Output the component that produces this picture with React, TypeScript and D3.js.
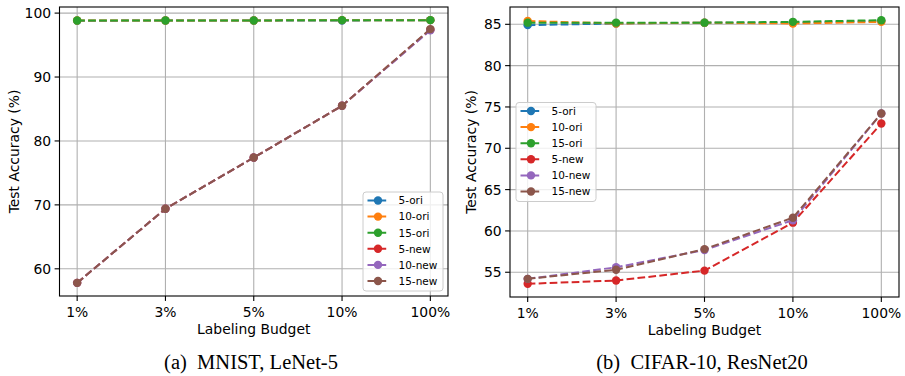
import React from "react";
import * as d3 from "d3";

const categories = ["1%", "3%", "5%", "10%", "100%"];
const seriesNames = ["5-ori", "10-ori", "15-ori", "5-new", "10-new", "15-new"];
const colors = ["#1f77b4", "#ff7f0e", "#2ca02c", "#d62728", "#9467bd", "#8c564b"];

// Panel (a) MNIST, LeNet-5
const mnist5ori = [98.8, 98.85, 98.85, 98.85, 98.9];
const mnist10ori = [98.85, 98.85, 98.85, 98.9, 98.9];
const mnist15ori = [98.85, 98.85, 98.85, 98.9, 98.9];
const mnist5new = [57.8, 69.4, 77.4, 85.5, 97.4];
const mnist10new = [57.8, 69.4, 77.4, 85.5, 97.3];
const mnist15new = [57.8, 69.4, 77.4, 85.5, 97.5];
const mnistTicks = [60, 70, 80, 90, 100];

// Panel (b) CIFAR-10, ResNet20
const cifar5ori = [84.9, 85.1, 85.2, 85.2, 85.4];
const cifar10ori = [85.4, 85.1, 85.2, 85.1, 85.3];
const cifar15ori = [85.2, 85.2, 85.2, 85.3, 85.5];
const cifar5new = [53.6, 54.0, 55.2, 61.0, 73.0];
const cifar10new = [54.2, 55.6, 57.7, 61.3, 74.2];
const cifar15new = [54.2, 55.3, 57.8, 61.6, 74.2];
const cifarTicks = [55, 60, 65, 70, 75, 80, 85];

const panels = [
  {
    series: [mnist5ori, mnist10ori, mnist15ori, mnist5new, mnist10new, mnist15new],
    ticks: mnistTicks,
    left: 59.5, right: 448, top: 7, bottom: 296,
    legend: { x: 363, y: 192 },
    caption: "(a)\u00a0\u00a0MNIST, LeNet-5",
    captionX: 251,
    ylabelX: 19,
  },
  {
    series: [cifar5ori, cifar10ori, cifar15ori, cifar5new, cifar10new, cifar15new],
    ticks: cifarTicks,
    left: 510, right: 899, top: 7, bottom: 297,
    legend: { x: 516, y: 102.5 },
    caption: "(b)\u00a0\u00a0CIFAR-10, ResNet20",
    captionX: 702,
    ylabelX: 476,
  },
];

const axisFont = "DejaVu Sans";

function Panel({ p }: { p: typeof panels[number] }) {
  const all = p.series.flat();
  const lo = d3.min(all)!;
  const hi = d3.max(all)!;
  const m = (hi - lo) * 0.05;
  const y = d3.scaleLinear().domain([lo - m, hi + m]).range([p.bottom, p.top]);
  const x = d3.scaleLinear().domain([-0.2, categories.length - 1 + 0.2]).range([p.left, p.right]);
  const line = d3
    .line<number>()
    .x((_, i) => x(i))
    .y((d) => y(d));
  const midX = (p.left + p.right) / 2;
  const midY = (p.top + p.bottom) / 2;
  return (
    <g>
      {categories.map((c, i) => (
        <line key={"gx" + c} x1={x(i)} x2={x(i)} y1={p.top} y2={p.bottom} stroke="#b0b0b0" strokeWidth={1.1} />
      ))}
      {p.ticks.map((t) => (
        <line key={"gy" + t} x1={p.left} x2={p.right} y1={y(t)} y2={y(t)} stroke="#b0b0b0" strokeWidth={1.1} />
      ))}
      {p.series.map((s, si) => (
        <g key={"s" + si}>
          <path d={line(s)!} fill="none" stroke={colors[si]} strokeWidth={2} strokeDasharray="7.7,3.3" />
          {s.map((v, i) => (
            <circle key={i} cx={x(i)} cy={y(v)} r={4.2} fill={colors[si]} />
          ))}
        </g>
      ))}
      <rect x={p.left} y={p.top} width={p.right - p.left} height={p.bottom - p.top} fill="none" stroke="#000" strokeWidth={1.1} />
      {categories.map((c, i) => (
        <g key={"xt" + c}>
          <line x1={x(i)} x2={x(i)} y1={p.bottom} y2={p.bottom + 4.9} stroke="#000" strokeWidth={1.1} />
          <text x={x(i)} y={p.bottom + 20.5} textAnchor="middle" style={{ fontFamily: axisFont, fontSize: 13.9 }} fill="#000">
            {c}
          </text>
        </g>
      ))}
      {p.ticks.map((t) => (
        <g key={"yt" + t}>
          <line x1={p.left - 4.9} x2={p.left} y1={y(t)} y2={y(t)} stroke="#000" strokeWidth={1.1} />
          <text x={p.left - 8.4} y={y(t) + 5} textAnchor="end" style={{ fontFamily: axisFont, fontSize: 13.9 }} fill="#000">
            {t}
          </text>
        </g>
      ))}
      <text x={midX} y={p.bottom + 38} textAnchor="middle" style={{ fontFamily: axisFont, fontSize: 13.9 }} fill="#000">
        Labeling Budget
      </text>
      <text
        transform={`translate(${p.ylabelX},${midY}) rotate(-90)`}
        textAnchor="middle"
        style={{ fontFamily: axisFont, fontSize: 13.9 }}
        fill="#000"
      >
        Test Accuracy (%)
      </text>
      <g transform={`translate(${p.legend.x},${p.legend.y})`}>
        <rect x={0} y={0} width={80} height={99} rx={3} fill="#fff" fillOpacity={0.8} stroke="#cccccc" strokeWidth={1} />
        {seriesNames.map((n, i) => {
          const ry = 8.5 + i * 16.1;
          return (
            <g key={n}>
              <line x1={4.5} x2={25.5} y1={ry} y2={ry} stroke={colors[i]} strokeWidth={2} strokeDasharray="7.7,3.3" />
              <circle cx={15} cy={ry} r={4.2} fill={colors[i]} />
              <text x={35.5} y={ry + 3.8} style={{ fontFamily: axisFont, fontSize: 10.5 }} fill="#000">
                {n}
              </text>
            </g>
          );
        })}
      </g>
      <text x={p.captionX} y={369} textAnchor="middle" style={{ fontFamily: "Liberation Serif", fontSize: 20.5 }} fill="#000">
        {p.caption}
      </text>
    </g>
  );
}

export default function App() {
  return (
    <svg
      width={905}
      height={376}
      viewBox="0 0 905 376"
      style={{ position: "absolute", left: 0, top: 0, background: "#fff" }}
    >
      <rect x={0} y={0} width={905} height={376} fill="#fff" />
      {panels.map((p, i) => (
        <Panel key={i} p={p} />
      ))}
    </svg>
  );
}
